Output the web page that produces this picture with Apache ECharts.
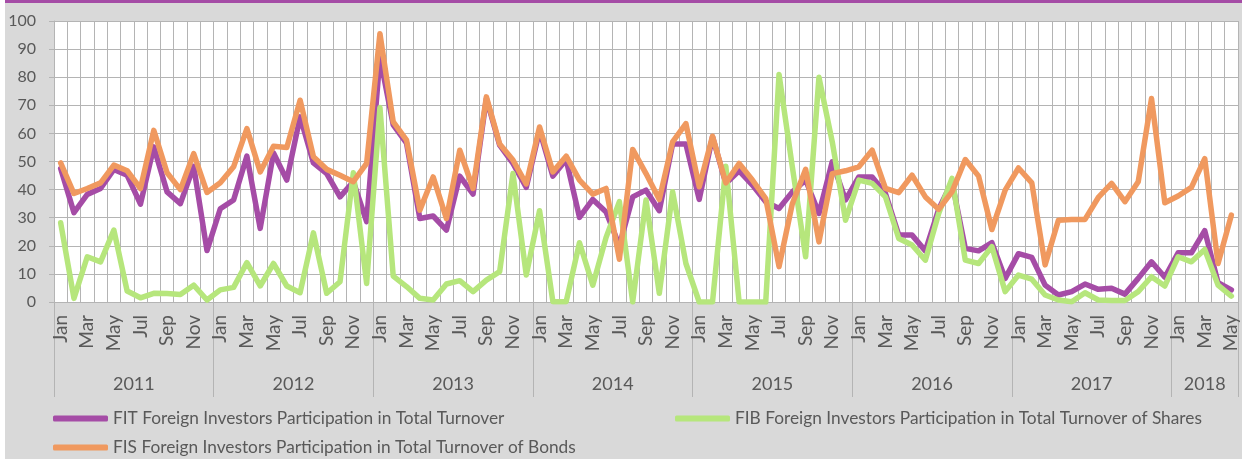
<!DOCTYPE html>
<html>
<head>
<meta charset="utf-8">
<script src="https://cdn.jsdelivr.net/npm/echarts@6/dist/echarts.min.js"></script>
<style>
  html, body { margin: 0; padding: 0; background: #ffffff; }
  #bg { position: absolute; left: 5px; top: 0; width: 1237px; height: 459px; background: #d9d9d9; }
  #topbar { position: absolute; left: 5px; top: 0; width: 1237px; height: 3px; background: #a54ca6; }
  #chart { position: absolute; left: 0; top: 0; width: 1242px; height: 459px; }
</style>
</head>
<body>
<div id="bg"></div>
<div id="topbar"></div>
<div id="chart"></div>
<script>
const monthNames = ['Jan','Feb','Mar','Apr','May','Jun','Jul','Aug','Sep','Oct','Nov','Dec'];
const years = ['2011','2012','2013','2014','2015','2016','2017','2018'];
const monthsInLastYear = 5;

const seriesNames = [
  'FIT Foreign Investors Participation in Total Turnover',
  'FIB Foreign Investors Participation in Total Turnover of Shares',
  'FIS Foreign Investors Participation in Total Turnover of Bonds'
];

// FIT – Foreign Investors Participation in Total Turnover (%)
const fit = [
  47.5, 31.8, 38.3, 40.4, 47.2, 45.1, 34.8, 55.2, 39.2, 35.0, 48.3, 18.3,
  33.2, 36.3, 51.9, 26.2, 53.0, 43.4, 65.9, 49.5, 45.7, 37.4, 42.8, 28.6,
  87.2, 63.0, 56.5, 29.7, 30.6, 25.6, 44.8, 38.4, 72.4, 55.8, 49.3, 40.8,
  61.1, 44.8, 50.7, 30.1, 36.5, 32.0, 20.0, 37.4, 39.8, 32.5, 56.2, 56.2,
  36.5, 58.8, 42.2, 46.7, 41.6, 35.7, 33.3, 39.2, 43.4, 31.5, 49.9, 36.3,
  44.5, 44.5, 38.6, 23.8, 23.8, 18.2, 33.0, 42.8, 19.1, 18.2, 21.1, 8.4,
  17.2, 15.9, 6.0, 2.5, 3.7, 6.4, 4.5, 4.9, 2.8, 8.4, 14.3, 8.8,
  17.5, 17.5, 25.4, 6.9, 4.3
];

// FIB – Foreign Investors Participation in Total Turnover of Shares (%)
const fib = [
  28.2, 1.3, 16.1, 14.3, 25.6, 3.9, 1.5, 3.1, 3.0, 2.7, 6.0, 0.7,
  4.3, 5.2, 14.0, 5.7, 13.7, 5.7, 3.3, 24.6, 3.1, 7.2, 46.0, 6.6,
  69.2, 9.2, 5.5, 1.3, 0.7, 6.4, 7.6, 3.7, 7.8, 10.8, 45.7, 9.6,
  32.5, 0.1, 0.1, 21.1, 6.0, 23.0, 35.7, 0.0, 36.3, 3.1, 39.2, 13.7,
  0.0, 0.0, 48.3, 0.0, 0.0, 0.0, 81.0, 48.1, 16.1, 80.0, 57.0, 29.1,
  43.4, 42.2, 37.4, 22.6, 20.3, 14.9, 31.5, 44.0, 14.9, 13.7, 19.7, 3.7,
  9.6, 8.1, 2.5, 0.7, 0.1, 3.3, 0.7, 0.5, 0.5, 3.7, 9.0, 5.7,
  16.1, 14.3, 18.7, 6.0, 2.1
];

// FIS – Foreign Investors Participation in Total Turnover of Bonds (%)
const fis = [
  49.5, 38.6, 40.4, 42.4, 48.7, 46.7, 40.4, 61.1, 46.0, 40.0, 52.8, 39.0,
  42.4, 48.1, 61.7, 46.3, 55.4, 55.0, 71.8, 51.7, 47.2, 45.1, 42.8, 49.3,
  95.5, 64.1, 57.6, 32.7, 44.5, 29.7, 54.0, 40.4, 73.0, 56.2, 50.5, 42.0,
  62.3, 46.3, 51.9, 43.4, 38.4, 40.4, 15.2, 54.3, 45.7, 36.5, 57.0, 63.5,
  41.0, 59.0, 42.4, 49.3, 43.4, 36.8, 12.6, 35.0, 47.2, 21.4, 45.7, 46.7,
  48.1, 54.0, 40.4, 38.9, 45.1, 37.4, 33.0, 39.2, 50.7, 44.8, 25.8, 39.8,
  47.7, 42.4, 13.2, 29.1, 29.4, 29.4, 37.2, 42.2, 35.7, 42.8, 72.4, 35.3,
  37.7, 40.8, 51.0, 13.7, 30.9
];

const yTicks = { min: 0, max: 100, interval: 10 };

// categories "Mon YYYY"
const categories = [];
years.forEach(function (y, yi) {
  const n = (yi === years.length - 1) ? monthsInLastYear : 12;
  for (let m = 0; m < n; m++) categories.push(monthNames[m] + ' ' + y);
});

const colors = ['#a54ca6', '#b6e67c', '#f0995f'];
const textColor = '#595959';
const gridColor = '#b4b4b4';
const FONT = 'Lato';

// year label placed in the middle of each year's group of months
function yearLabel(value, index) {
  const y = value.split(' ')[1];
  const yi = years.indexOf(y);
  const startIdx = yi * 12;
  const n = (yi === years.length - 1) ? monthsInLastYear : 12;
  if (n % 2 === 0) {
    if (index === startIdx + n / 2) return '{even|' + y + '}';
  } else {
    if (index === startIdx + (n - 1) / 2) return '{odd|' + y + '}';
  }
  return '';
}

const chart = echarts.init(document.getElementById('chart'), null, { renderer: 'canvas' });

const legendBase = {
  orient: 'horizontal',
  itemWidth: 55,
  itemHeight: 6,
  icon: 'roundRect',
  padding: 0,
  selectedMode: false,
  textStyle: { color: textColor, fontSize: 17.3, fontFamily: FONT }
};

chart.setOption({
  animation: false,
  backgroundColor: 'transparent',
  color: colors,
  textStyle: { fontFamily: FONT },
  grid: { left: 54, right: 4, top: 21, bottom: 157, containLabel: false, show: true, backgroundColor: '#ffffff', borderWidth: 0 },
  legend: [
    Object.assign({}, legendBase, { data: [seriesNames[0]], left: 53, top: 410 }),
    Object.assign({}, legendBase, { data: [seriesNames[1]], left: 675, top: 410 }),
    Object.assign({}, legendBase, { data: [seriesNames[2]], left: 53, top: 439 })
  ],
  xAxis: [
    {
      type: 'category',
      data: categories,
      boundaryGap: true,
      position: 'bottom',
      axisLine: { show: true, lineStyle: { color: gridColor, width: 1 } },
      axisTick: { show: false },
      axisLabel: {
        interval: 1,
        rotate: 90,
        margin: 13,
        color: textColor,
        fontSize: 19,
        fontFamily: FONT,
        formatter: function (v) { return v.split(' ')[0]; }
      },
      splitLine: { show: true, interval: 0, lineStyle: { color: gridColor, width: 1 } }
    },
    {
      type: 'category',
      data: categories,
      boundaryGap: true,
      position: 'bottom',
      axisLine: { show: false },
      axisTick: {
        show: true,
        length: 95,
        interval: function (index) { return index % 12 === 0; },
        lineStyle: { color: gridColor, width: 1 }
      },
      axisLabel: {
        interval: 0,
        margin: 73,
        color: textColor,
        fontSize: 18,
        fontFamily: FONT,
        formatter: yearLabel,
        rich: {
          even: { fontSize: 18, color: textColor, fontFamily: FONT, padding: [0, 13.3, 0, 0] },
          odd: { fontSize: 18, color: textColor, fontFamily: FONT }
        }
      },
      splitLine: { show: false }
    }
  ],
  yAxis: {
    type: 'value',
    min: yTicks.min,
    max: yTicks.max,
    interval: yTicks.interval,
    axisLine: { show: true, lineStyle: { color: gridColor, width: 1 } },
    axisTick: { show: true, length: 5, lineStyle: { color: gridColor } },
    axisLabel: { color: textColor, fontSize: 16, fontFamily: FONT, margin: 18 },
    splitLine: { show: true, lineStyle: { color: gridColor, width: 1 } }
  },
  series: [
    {
      name: seriesNames[0], type: 'line', data: fit, symbol: 'none', xAxisIndex: 0,
      lineStyle: { width: 5.5, color: colors[0], cap: 'round', join: 'round' },
      itemStyle: { color: colors[0] }
    },
    {
      name: seriesNames[1], type: 'line', data: fib, symbol: 'none', xAxisIndex: 0,
      lineStyle: { width: 5.5, color: colors[1], cap: 'round', join: 'round' },
      itemStyle: { color: colors[1] }
    },
    {
      name: seriesNames[2], type: 'line', data: fis, symbol: 'none', xAxisIndex: 0,
      lineStyle: { width: 5.5, color: colors[2], cap: 'round', join: 'round' },
      itemStyle: { color: colors[2] }
    }
  ]
});
</script>
</body>
</html>
